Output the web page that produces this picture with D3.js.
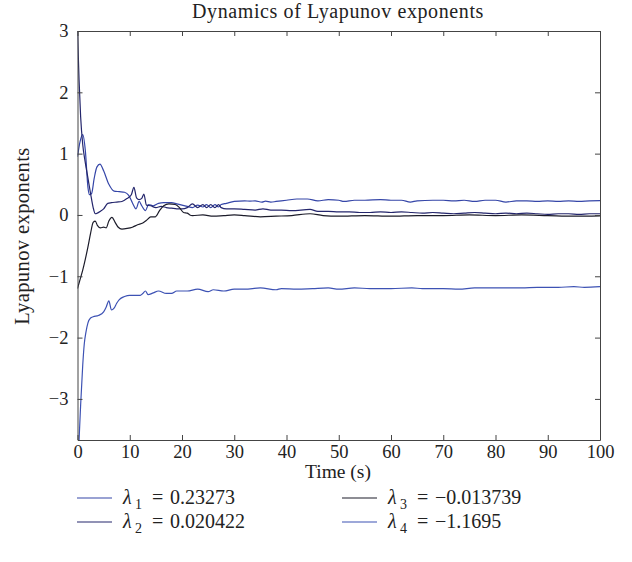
<!DOCTYPE html>
<html>
<head>
<meta charset="utf-8">
<script src="https://cdn.jsdelivr.net/npm/d3@7"></script>
<style>
  body { margin: 0; background: #fff; }
  svg text { font-family: "Liberation Serif", "DejaVu Serif", serif; fill: #222; }
</style>
</head>
<body>
<script>
const WIDTH = 632;
const HEIGHT = 562;

// time ticks and exponent ticks
var xTicks = [0, 10, 20, 30, 40, 50, 60, 70, 80, 90, 100];
var yTicks = [-3, -2, -1, 0, 1, 2, 3];

// each series: [time, value]
var lambda1 = [[0, 0.95], [0.5, 1.2], [1, 1.31], [1.5, 1.05], [2, 0.45], [2.3, 0.33], [2.7, 0.35], [3.2, 0.6],
    [3.7, 0.78], [4.3, 0.83], [5, 0.72], [6, 0.5], [7, 0.39], [8, 0.38], [9, 0.37], [9.8, 0.32], [10.5, 0.2],
    [11.2, 0.1], [11.8, 0.22], [12.3, 0.15], [13, 0.07], [13.6, 0.17], [14.5, 0.15], [15.5, 0.19], [16.5, 0.2],
    [18, 0.2], [19, 0.18], [20, 0.16], [21, 0.14], [22, 0.12], [23, 0.16], [24, 0.13], [24.7, 0.17], [25.5, 0.12],
    [26.3, 0.17], [27, 0.13], [27.5, 0.17], [28.5, 0.19], [30, 0.22], [32, 0.23], [33, 0.225], [34, 0.23],
    [35.3, 0.21], [36, 0.225], [37, 0.21], [38, 0.22], [40, 0.24], [42, 0.26], [44, 0.26], [46, 0.23], [48, 0.25],
    [50, 0.24], [51, 0.22], [53, 0.24], [55, 0.24], [58, 0.25], [60, 0.24], [62, 0.24], [63.7, 0.21], [65, 0.23],
    [68, 0.24], [70, 0.24], [72, 0.23], [74, 0.24], [76, 0.22], [78, 0.24], [80, 0.24], [82, 0.21], [84, 0.23],
    [86, 0.23], [88, 0.22], [90, 0.23], [92, 0.22], [94, 0.23], [96, 0.22], [98, 0.23], [100, 0.233]];

var lambda2 = [[0, 3.0], [0.3, 2.2], [0.6, 1.6], [1, 1.15], [1.5, 0.85], [2, 0.6], [2.5, 0.35], [3, 0.12],
    [3.4, 0.02], [3.8, 0.03], [4.4, 0.06], [5, 0.1], [5.8, 0.19], [6.5, 0.2], [7.5, 0.21], [8.5, 0.22],
    [9.5, 0.27], [10.3, 0.33], [10.8, 0.45], [11.3, 0.28], [11.8, 0.25], [12.3, 0.27], [12.7, 0.34], [13.2, 0.16],
    [14, 0.15], [15, 0.12], [16, 0.14], [17, 0.12], [18, 0.11], [19, 0.1], [20, 0.1], [21, 0.12], [22, 0.18],
    [23, 0.12], [24, 0.17], [24.7, 0.12], [25.5, 0.17], [26.3, 0.12], [27, 0.17], [27.5, 0.12], [28.5, 0.1],
    [30, 0.1], [32, 0.09], [34, 0.08], [35.5, 0.1], [37, 0.08], [39, 0.08], [41, 0.07], [44.5, 0.09], [46, 0.06],
    [48, 0.06], [50, 0.05], [52, 0.05], [54, 0.04], [56, 0.04], [58, 0.05], [60, 0.04], [62, 0.05], [64, 0.04],
    [66, 0.03], [68, 0.04], [70, 0.03], [72, 0.02], [74, 0.03], [76, 0.04], [78, 0.03], [80, 0.02], [82, 0.03],
    [84, 0.02], [86, 0.03], [88, 0.02], [90, 0.01], [92, 0.02], [94, 0.02], [96, 0.01], [98, 0.02], [100, 0.02]];

var lambda3 = [[0, -1.2], [0.5, -1.05], [1, -0.9], [1.5, -0.72], [2, -0.52], [2.5, -0.3], [3, -0.12],
    [3.4, -0.1], [3.8, -0.17], [4.4, -0.21], [5, -0.2], [5.5, -0.21], [6, -0.1], [6.6, -0.04], [7.2, -0.12],
    [7.8, -0.2], [8.5, -0.23], [9.5, -0.22], [10.5, -0.2], [11.5, -0.16], [12.5, -0.13], [13.3, -0.08],
    [14, -0.03], [14.9, -0.03], [15.7, 0.07], [16.5, 0.15], [17.5, 0.18], [18.7, 0.17], [19.5, 0.12],
    [20.3, 0.04], [21, 0.03], [21.5, 0.0], [22, -0.01], [24, 0.0], [26, -0.02], [28, -0.01], [30, 0.0],
    [32, -0.01], [35, -0.03], [38, -0.02], [41, -0.01], [44.5, 0.02], [47, -0.01], [50, -0.02], [55, -0.01],
    [60, -0.02], [65, -0.01], [70, -0.01], [75, 0.0], [80, -0.01], [85, 0.0], [90, -0.01], [95, -0.02],
    [100, -0.014]];

var lambda4 = [[0.3, -3.67], [0.6, -3.1], [1, -2.45], [1.3, -2.1], [1.6, -1.92], [2, -1.76], [2.5, -1.68],
    [3, -1.66], [4, -1.64], [5, -1.58], [5.5, -1.5], [6, -1.4], [6.5, -1.55], [7, -1.52], [7.5, -1.44],
    [8, -1.38], [9, -1.33], [10, -1.31], [11, -1.31], [12, -1.31], [12.5, -1.28], [13, -1.24], [13.5, -1.3],
    [14.5, -1.27], [15.5, -1.24], [17, -1.28], [18, -1.28], [19, -1.24], [21, -1.24], [23, -1.21], [25, -1.25],
    [26, -1.22], [28, -1.24], [30, -1.21], [32, -1.21], [35, -1.19], [38, -1.22], [39, -1.2], [42, -1.21],
    [45, -1.2], [48, -1.19], [50, -1.21], [53, -1.19], [56, -1.2], [60, -1.2], [64, -1.19], [66, -1.2],
    [70, -1.2], [73, -1.21], [76, -1.19], [80, -1.19], [85, -1.19], [88, -1.18], [92, -1.18], [95, -1.17],
    [97, -1.18], [100, -1.17]];

var seriesNames = ['1', '2', '3', '4'];
var seriesValues = ['0.23273', '0.020422', '\u22120.013739', '\u22121.1695'];
var seriesColors = ['#3546a8', '#24266c', '#1c1c2a', '#3d52b4'];
var seriesData = [lambda1, lambda2, lambda3, lambda4];

var svg = d3.select('body').append('svg')
    .attr('width', WIDTH)
    .attr('height', HEIGHT);

var xScale = d3.scaleLinear().domain([0, 100]).range([77.5, 600]);
var yScale = d3.scaleLinear().domain([-3.67, 3]).range([440, 31]);

svg.append('clipPath').attr('id', 'plot-clip')
    .append('rect')
    .attr('x', 77.5).attr('y', 31)
    .attr('width', 600 - 77.5).attr('height', 440 - 31);

// curves
var line = d3.line()
    .x(function (d) { return xScale(d[0]); })
    .y(function (d) { return yScale(d[1]); })
    .curve(d3.curveMonotoneX);

var lines = svg.append('g').attr('clip-path', 'url(#plot-clip)');
seriesData.forEach(function (data, i) {
    lines.append('path')
        .attr('d', line(data))
        .attr('fill', 'none')
        .attr('stroke', seriesColors[i])
        .attr('stroke-width', 1.2);
});

// axes, ticks pointing inward on all four sides
var axisStyle = function (g) {
    g.selectAll('.domain').attr('stroke', '#444');
    g.selectAll('.tick line').attr('stroke', '#444');
    g.selectAll('.tick text')
        .style('font-family', '"Liberation Serif", serif')
        .style('font-size', '18.5px')
        .attr('fill', '#222');
};

svg.append('g')
    .attr('transform', 'translate(0,440)')
    .call(d3.axisBottom(xScale).tickValues(xTicks).tickSize(-5).tickSizeOuter(0).tickPadding(5))
    .call(axisStyle);
svg.append('g')
    .attr('transform', 'translate(0,31)')
    .call(d3.axisTop(xScale).tickValues(xTicks).tickSize(-5).tickSizeOuter(0).tickFormat(''))
    .call(axisStyle);
svg.append('g')
    .attr('transform', 'translate(77.5,0)')
    .call(d3.axisLeft(yScale).tickValues(yTicks).tickSize(-5).tickSizeOuter(0).tickPadding(9)
        .tickFormat(d3.format('d')))
    .call(axisStyle);
svg.append('g')
    .attr('transform', 'translate(600,0)')
    .call(d3.axisRight(yScale).tickValues(yTicks).tickSize(-5).tickSizeOuter(0).tickFormat(''))
    .call(axisStyle);

// titles
svg.append('text')
    .attr('x', 338).attr('y', 18)
    .attr('text-anchor', 'middle')
    .style('font-size', '20px')
    .style('letter-spacing', '0.6px')
    .text('Dynamics of Lyapunov exponents');

svg.append('text')
    .attr('x', 338).attr('y', 478)
    .attr('text-anchor', 'middle')
    .style('font-size', '19.5px')
    .text('Time (s)');

svg.append('text')
    .attr('transform', 'translate(29,236) rotate(-90)')
    .attr('text-anchor', 'middle')
    .style('font-size', '20.5px')
    .style('letter-spacing', '0.4px')
    .text('Lyapunov exponents');

// legend in two columns
var legendX = [77, 342];
var legendY = [498, 522];
var legendOrder = [[0, 0], [0, 1], [1, 0], [1, 1]];

seriesNames.forEach(function (name, i) {
    var col = legendOrder[i][0];
    var row = legendOrder[i][1];
    var g = svg.append('g')
        .attr('transform', 'translate(' + legendX[col] + ',' + legendY[row] + ')');
    g.append('line')
        .attr('x1', 0).attr('x2', 35)
        .attr('y1', 0).attr('y2', 0)
        .attr('stroke', seriesColors[i])
        .attr('stroke-width', 1.2);
    var t = g.append('text')
        .attr('y', 6)
        .style('font-size', '20px');
    t.append('tspan').attr('x', 46).style('font-style', 'italic').text('\u03bb');
    t.append('tspan').attr('x', 58).attr('dy', 5).style('font-size', '14px').text(name);
    t.append('tspan').attr('x', 75).attr('dy', -5).text('=');
    t.append('tspan').attr('x', 93).text(seriesValues[i]);
});
</script>
</body>
</html>
